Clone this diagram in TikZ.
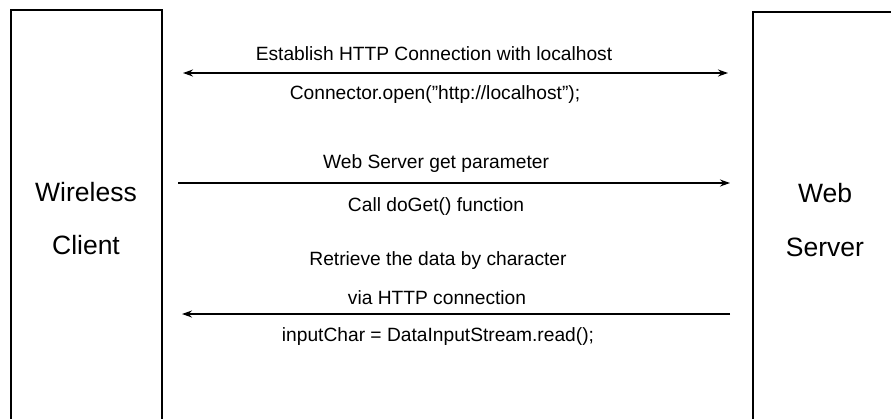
\documentclass[tikz,border=0pt]{standalone}
\usepackage{fontspec}
\setmainfont{Liberation Sans}
\usetikzlibrary{arrows.meta}
\tikzset{
  box/.style={draw=black, line width=1.9pt, anchor=north west, inner sep=0pt},
  biglabel/.style={font=\fontsize{26.5}{30}\selectfont, inner sep=0pt},
  msg/.style={font=\fontsize{19.2}{23}\selectfont, inner sep=0pt},
  arr/.style={draw=black, line width=1.6pt},
  tip/.tip={Stealth[length=10pt,width=7pt]}
}
\begin{document}
\begin{tikzpicture}[x=1pt,y=-1pt]
\useasboundingbox (0,0) rectangle (891,418);
\clip (0,0) rectangle (891,418);
\node[box, minimum width=151pt, minimum height=440pt] (wc) at (10,9) {};
\node[box, minimum width=200pt, minimum height=440pt] (ws) at (752,11) {};
\node[biglabel] (wcl1) at (86,192) {Wireless};
\node[biglabel] (wcl2) at (86,245) {Client};
\node[biglabel] (wsl1) at (825,193) {Web};
\node[biglabel] (wsl2) at (825,247) {Server};
\coordinate (a1l) at (183,73);
\coordinate (a1r) at (728,73);
\coordinate (a2l) at (178,183);
\coordinate (a2r) at (730,183);
\coordinate (a3r) at (730,314);
\coordinate (a3l) at (182,314);
\draw[arr, tip-tip] (a1l) -- (a1r);
\draw[arr, -tip] (a2l) -- (a2r);
\draw[arr, -tip] (a3r) -- (a3l);
\node[msg] (t1) at (434,54) {Establish HTTP Connection with localhost};
\node[msg] (t2) at (435,95) {Connector.open("http://localhost");};
\node[msg] (t3) at (436,164) {Web Server get parameter};
\node[msg] (t4) at (436,207) {Call doGet() function};
\node[msg] (t5) at (438,261) {Retrieve the data by character};
\node[msg] (t6) at (437,298) {via HTTP connection};
\node[msg] (t7) at (438,337) {inputChar = DataInputStream.read();};
\end{tikzpicture}
\end{document}
